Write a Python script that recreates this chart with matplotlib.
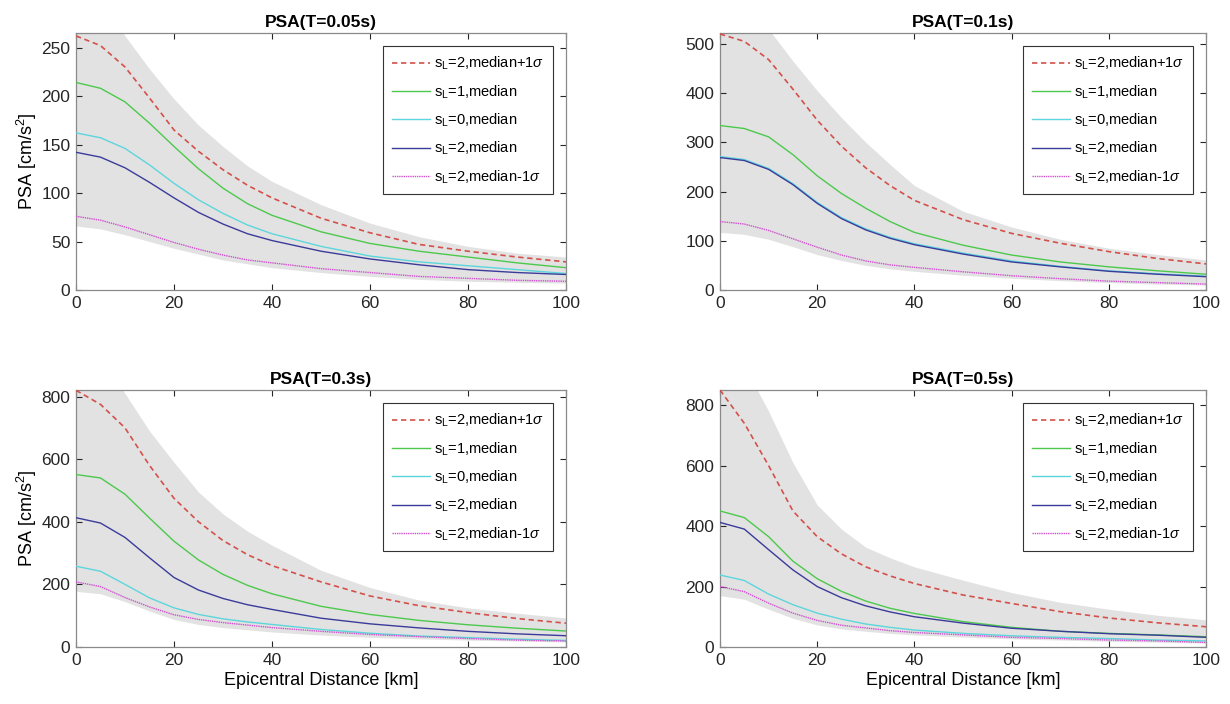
import matplotlib
matplotlib.use("Agg")
import matplotlib.pyplot as plt

plt.rcParams['font.family'] = ['Liberation Sans', 'DejaVu Sans']
plt.rcParams['mathtext.fontset'] = 'custom'
plt.rcParams['mathtext.rm'] = 'Liberation Sans'
plt.rcParams['mathtext.it'] = 'Liberation Sans:italic'

# Epicentral distance [km]
distance = [0, 5, 10, 15, 20, 25, 30, 35, 40, 50, 60, 70, 80, 90, 100]

titles = ["PSA(T=0.05s)", "PSA(T=0.1s)", "PSA(T=0.3s)", "PSA(T=0.5s)"]
labels = [r"s$_\mathrm{L}$=2,median+1$\sigma$", r"s$_\mathrm{L}$=1,median",
          r"s$_\mathrm{L}$=0,median", r"s$_\mathrm{L}$=2,median",
          r"s$_\mathrm{L}$=2,median-1$\sigma$"]

# T = 0.05 s
t005_sl2_plus = [262, 252, 230, 198, 165, 143, 124, 108, 95, 74, 59, 47, 40, 34, 29]
t005_sl1_med = [214, 208, 194, 172, 148, 125, 105, 89, 77, 60, 48, 40, 34, 28, 23]
t005_sl0_med = [162, 157, 146, 129, 110, 93, 79, 67, 58, 45, 35, 29, 25, 21, 17]
t005_sl2_med = [142, 137, 126, 111, 95, 80, 68, 58, 51, 40, 32, 26, 21, 18, 16]
t005_sl2_minus = [76, 72, 65, 57, 49, 42, 36, 31, 28, 22, 18, 14, 12, 10, 9]
t005_band_hi = [330, 300, 262, 228, 197, 170, 148, 128, 112, 88, 69, 55, 45, 38, 34]
t005_band_lo = [66, 63, 57, 50, 43, 37, 31, 27, 23, 18, 14, 11, 9, 8, 7]

# T = 0.1 s
t01_sl2_plus = [520, 505, 468, 408, 345, 292, 248, 212, 182, 143, 115, 95, 78, 64, 53]
t01_sl1_med = [334, 328, 311, 275, 232, 196, 166, 139, 117, 91, 71, 57, 47, 39, 32]
t01_sl0_med = [271, 265, 247, 216, 178, 147, 124, 107, 94, 75, 59, 48, 39, 33, 28]
t01_sl2_med = [269, 263, 245, 214, 176, 145, 122, 105, 92, 73, 57, 47, 38, 32, 27]
t01_sl2_minus = [139, 134, 121, 104, 87, 71, 59, 51, 46, 37, 29, 23, 18, 15, 12]
t01_band_hi = [640, 590, 530, 465, 405, 350, 300, 255, 212, 160, 128, 103, 85, 72, 61]
t01_band_lo = [117, 113, 103, 88, 72, 60, 50, 43, 38, 30, 24, 19, 15, 12, 10]

# T = 0.3 s
t03_sl2_plus = [820, 775, 700, 580, 475, 400, 340, 295, 260, 208, 163, 132, 110, 91, 76]
t03_sl1_med = [551, 540, 488, 412, 338, 278, 232, 197, 170, 130, 104, 85, 71, 60, 51]
t03_sl0_med = [258, 242, 200, 157, 125, 104, 90, 80, 72, 56, 44, 35, 30, 25, 21]
t03_sl2_med = [413, 396, 350, 285, 222, 182, 155, 135, 120, 92, 74, 61, 50, 42, 36]
t03_sl2_minus = [208, 193, 158, 128, 103, 88, 78, 70, 62, 50, 40, 33, 27, 22, 19]
t03_band_hi = [1000, 920, 810, 690, 590, 495, 425, 370, 325, 245, 190, 150, 125, 108, 93]
t03_band_lo = [178, 170, 145, 115, 88, 72, 62, 55, 48, 38, 31, 26, 22, 19, 16]

# T = 0.5 s
t05_sl2_plus = [850, 740, 600, 450, 365, 308, 265, 235, 210, 172, 144, 117, 96, 80, 67]
t05_sl1_med = [450, 428, 365, 284, 226, 184, 152, 128, 111, 84, 65, 52, 45, 40, 34]
t05_sl0_med = [238, 220, 175, 140, 112, 92, 76, 65, 56, 45, 37, 32, 28, 23, 20]
t05_sl2_med = [412, 390, 322, 255, 200, 163, 136, 116, 100, 79, 62, 52, 44, 39, 32]
t05_sl2_minus = [200, 183, 145, 112, 88, 72, 63, 54, 48, 40, 32, 28, 23, 20, 15]
t05_band_hi = [1050, 930, 780, 610, 470, 390, 330, 295, 265, 221, 180, 148, 125, 105, 90]
t05_band_lo = [170, 158, 125, 95, 73, 60, 52, 45, 40, 33, 27, 23, 19, 16, 13]

panels = [
    (t005_sl2_plus, t005_sl1_med, t005_sl0_med, t005_sl2_med, t005_sl2_minus, t005_band_hi, t005_band_lo),
    (t01_sl2_plus, t01_sl1_med, t01_sl0_med, t01_sl2_med, t01_sl2_minus, t01_band_hi, t01_band_lo),
    (t03_sl2_plus, t03_sl1_med, t03_sl0_med, t03_sl2_med, t03_sl2_minus, t03_band_hi, t03_band_lo),
    (t05_sl2_plus, t05_sl1_med, t05_sl0_med, t05_sl2_med, t05_sl2_minus, t05_band_hi, t05_band_lo),
]
ylims = [265, 522, 821, 850]
yticks = [list(range(0, 251, 50)), list(range(0, 501, 100)),
          list(range(0, 801, 200)), list(range(0, 801, 200))]

styles = [
    dict(color='#D4504A', ls=(0, (3.2, 2.2)), lw=1.2),
    dict(color='#4CC94C', ls='-', lw=1.0),
    dict(color='#5CD6DC', ls='-', lw=1.0),
    dict(color='#3B3B9B', ls='-', lw=1.0),
    dict(color='#D050D0', ls=(0, (1, 0.6)), lw=1.0),
]

fig = plt.figure(figsize=(12.3, 7.04), dpi=100)
positions = [
    [76/1230, 1-290/704, 490/1230, 257/704],
    [720/1230, 1-290/704, 486/1230, 257/704],
    [76/1230, 1-647/704, 490/1230, 257/704],
    [720/1230, 1-647/704, 486/1230, 257/704],
]

for i, (data, pos) in enumerate(zip(panels, positions)):
    ax = fig.add_axes(pos)
    plus, s1, s0, s2, minus, hi, lo = data
    ax.fill_between(distance, lo, hi, color='#E2E2E2', lw=0, zorder=1)
    for series, st, lab in zip([plus, s1, s0, s2, minus], styles, labels):
        ax.plot(distance, series, label=lab, zorder=3, solid_joinstyle='round', **st)
    ax.set_xlim(0, 100)
    ax.set_ylim(0, ylims[i])
    ax.set_xticks([0, 20, 40, 60, 80, 100])
    ax.set_yticks(yticks[i])
    ax.tick_params(direction='in', top=True, right=True, labelsize=12.5,
                   colors='#262626', length=4, width=0.8, pad=4)
    for sp in ax.spines.values():
        sp.set_color('#8a8a8a')
        sp.set_linewidth(0.9)
    ax.set_title(titles[i], fontsize=12.5, fontweight='bold', pad=4)
    if i % 2 == 0:
        ax.set_ylabel('PSA [cm/s$^2$]', fontsize=13, labelpad=2)
    if i >= 2:
        ax.set_xlabel('Epicentral Distance [km]', fontsize=13, labelpad=3)
    leg = ax.legend(loc='upper right', fontsize=10.5, frameon=True, fancybox=False,
                    framealpha=1, edgecolor='#333333', borderaxespad=0.9,
                    handlelength=2.6, handletextpad=0.3, labelspacing=0.75,
                    borderpad=0.6)
    leg.get_frame().set_linewidth(0.8)
    leg.set_zorder(5)

fig.savefig('out.png', dpi=100)
